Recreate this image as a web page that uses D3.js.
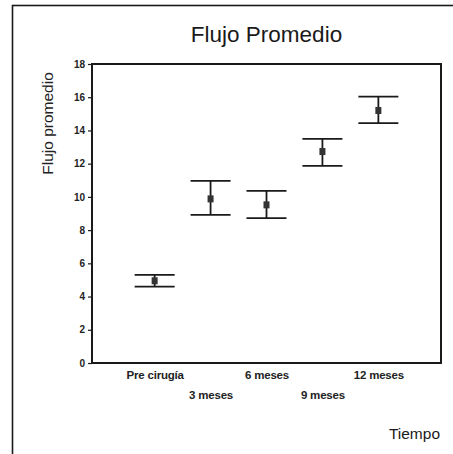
<!DOCTYPE html>
<html>
<head>
<meta charset="utf-8">
<script src="https://cdn.jsdelivr.net/npm/d3@7"></script>
<style>
  html, body { margin: 0; padding: 0; background: #fff; }
  svg { display: block; }
</style>
</head>
<body>
<svg id="chart" width="453" height="454"></svg>
<script>
// Mean flow per time point, with the lower and upper ends of each error bar
const categories = ["Pre cirugía", "3 meses", "6 meses", "9 meses", "12 meses"];
const means = [4.95, 9.88, 9.52, 12.73, 15.2];
const lower = [4.6, 8.92, 8.72, 11.87, 14.44];
const upper = [5.3, 10.96, 10.36, 13.49, 16.04];
const yTicks = [0, 2, 4, 6, 8, 10, 12, 14, 16, 18];

const ink = "#1a1a1a";
const svg = d3.select("#chart");

const plot = { left: 92, right: 441, top: 64, bottom: 363 };

const x = d3.scalePoint().domain(categories).range([plot.left, plot.right]).padding(1.12);
const y = d3.scaleLinear().domain([0, 18]).range([plot.bottom, plot.top]);

// outer frame
svg.append("rect")
  .attr("x", 12.5).attr("y", 5.5).attr("width", 446).attr("height", 460)
  .attr("fill", "none").attr("stroke", ink).attr("stroke-width", 1.6);

// title
svg.append("text")
  .attr("x", (plot.left + plot.right) / 2).attr("y", 42)
  .attr("text-anchor", "middle")
  .attr("font-family", "Liberation Sans, Arial, sans-serif")
  .attr("font-size", 22.5).attr("fill", ink)
  .text("Flujo Promedio");

// plot frame
svg.append("rect")
  .attr("x", plot.left).attr("y", plot.top)
  .attr("width", plot.right - plot.left).attr("height", plot.bottom - plot.top)
  .attr("fill", "none").attr("stroke", ink).attr("stroke-width", 2);

// y axis
const yAxis = d3.axisLeft(y).tickValues(yTicks).tickSize(4).tickPadding(3).tickFormat(d3.format("d"));
const gy = svg.append("g").attr("transform", `translate(${plot.left},0)`).call(yAxis);
gy.select(".domain").remove();
gy.selectAll("line").attr("stroke", ink).attr("stroke-width", 1.2);
gy.selectAll("text")
  .attr("font-family", "Liberation Sans, Arial, sans-serif")
  .attr("font-size", 10).attr("font-weight", "bold").attr("fill", "#222");

// x axis labels, staggered on two rows
const xAxis = d3.axisBottom(x).tickSize(0).tickPadding(0);
const gx = svg.append("g").attr("transform", `translate(0,${plot.bottom})`).call(xAxis);
gx.select(".domain").remove();
gx.selectAll("text")
  .attr("font-family", "Liberation Sans, Arial, sans-serif")
  .attr("font-size", 11.5).attr("font-weight", "bold").attr("fill", "#222")
  .attr("dy", null)
  .attr("y", (d, i) => i % 2 === 0 ? 16 : 36)
  .attr("letter-spacing", -0.2);

// axis titles
svg.append("text")
  .attr("transform", `translate(53,${(70 + 177) / 2}) rotate(-90)`)
  .attr("text-anchor", "middle")
  .attr("font-family", "Liberation Sans, Arial, sans-serif")
  .attr("font-size", 15.5).attr("fill", "#222")
  .text("Flujo promedio");

svg.append("text")
  .attr("x", 440).attr("y", 439)
  .attr("text-anchor", "end")
  .attr("font-family", "Liberation Sans, Arial, sans-serif")
  .attr("font-size", 15.5).attr("fill", ink)
  .text("Tiempo");

// error bars
const rows = categories.map((c, i) => ({ c, m: means[i], lo: lower[i], hi: upper[i] }));
const capHalf = 20;
const bars = svg.append("g").selectAll("g").data(rows).join("g")
  .attr("stroke", ink).attr("stroke-width", 1.8);
bars.append("line")
  .attr("x1", d => x(d.c)).attr("x2", d => x(d.c))
  .attr("y1", d => y(d.lo)).attr("y2", d => y(d.hi));
bars.append("line")
  .attr("x1", d => x(d.c) - capHalf).attr("x2", d => x(d.c) + capHalf)
  .attr("y1", d => y(d.hi)).attr("y2", d => y(d.hi));
bars.append("line")
  .attr("x1", d => x(d.c) - capHalf).attr("x2", d => x(d.c) + capHalf)
  .attr("y1", d => y(d.lo)).attr("y2", d => y(d.lo));
bars.append("rect")
  .attr("x", d => x(d.c) - 3).attr("y", d => y(d.m) - 3.5)
  .attr("width", 6).attr("height", 7)
  .attr("fill", "#333").attr("stroke", "none");
</script>
</body>
</html>
